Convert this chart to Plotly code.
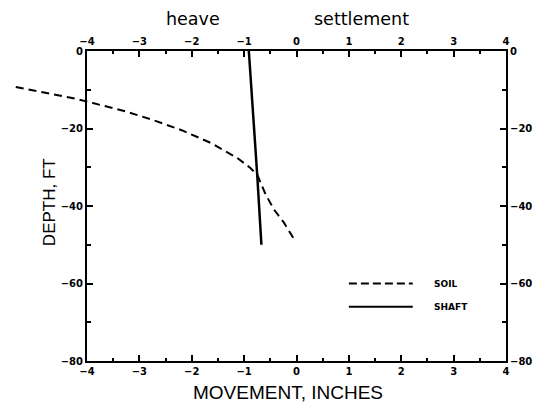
import plotly.graph_objects as go

# Soil and shaft movement profiles (movement in inches, depth in feet)
soil_move = [-5.36, -5.01, -4.63, -4.19, -3.87, -3.26, -2.72, -2.18, -1.64,
             -1.13, -0.88, -0.75, -0.59, -0.43, -0.24, -0.05]
soil_depth = [-9.3, -10.2, -11.1, -12.4, -13.5, -15.6, -17.9, -20.5, -23.7,
              -27.6, -30.2, -31.9, -37.0, -40.9, -44.3, -48.5]

shaft_move = [-0.91, -0.81, -0.75, -0.67]
shaft_depth = [0.0, -19.6, -32.0, -50.0]

x_ticks = [-4, -3, -2, -1, 0, 1, 2, 3, 4]
y_ticks = [0, -20, -40, -60, -80]
legend_names = ["SOIL", "SHAFT"]

W, H = 540, 408
ML, MR, MT, MB = 10, 34, 51, 47
plot_w = W - ML - MR
main_left = 87 - ML
x_dom0 = main_left / plot_w
ext_min = 4 - 8 * plot_w / (plot_w - main_left)

tick_font = dict(family="DejaVu Sans", size=10, color="black", weight="bold")

fig = go.Figure()

# soil curve runs past the left frame, so it sits on a wider companion x axis
fig.add_trace(go.Scatter(x=soil_move, y=soil_depth, mode="lines",
                         xaxis="x3", yaxis="y", name=legend_names[0],
                         line=dict(color="black", width=2, dash="8px,5px"),
                         showlegend=False, hoverinfo="skip"))
fig.add_trace(go.Scatter(x=shaft_move, y=shaft_depth, mode="lines",
                         xaxis="x", yaxis="y", name=legend_names[1],
                         line=dict(color="black", width=2.5),
                         showlegend=False, hoverinfo="skip"))
# empty trace so the mirrored top/right axes are rendered
fig.add_trace(go.Scatter(x=[], y=[], xaxis="x2", yaxis="y2",
                         showlegend=False, hoverinfo="skip"))

xcommon = dict(range=[-4, 4], tickvals=x_ticks, ticks="inside", ticklen=6,
               tickwidth=1.5, tickcolor="black", showline=True, linewidth=2,
               linecolor="black", showgrid=False, zeroline=False,
               tickfont=tick_font, automargin=False,
               minor=dict(dtick=0.5, ticks="inside", ticklen=3,
                          tickcolor="black", tickwidth=1.5, showgrid=False))
ycommon = dict(range=[-80, 0], tickvals=y_ticks, ticks="inside", ticklen=6,
               tickwidth=1.5, tickcolor="black", showline=True, linewidth=2,
               linecolor="black", showgrid=False, zeroline=False,
               tickfont=tick_font, automargin=False,
               minor=dict(dtick=10, ticks="inside", ticklen=4,
                          tickcolor="black", tickwidth=1.5, showgrid=False))

fig.update_layout(
    template="none",
    width=W, height=H,
    margin=dict(l=ML, r=MR, t=MT, b=MB, autoexpand=False),
    paper_bgcolor="white", plot_bgcolor="rgba(0,0,0,0)",
    showlegend=False,
    xaxis=dict(xcommon, domain=[x_dom0, 1], anchor="y"),
    xaxis2=dict(xcommon, domain=[x_dom0, 1], overlaying="x", side="top",
                anchor="y2"),
    xaxis3=dict(range=[ext_min, 4], domain=[0, 1], anchor="y",
                visible=False, automargin=False),
    yaxis=dict(ycommon, anchor="x", domain=[0, 1]),
    yaxis2=dict(ycommon, overlaying="y", side="right", anchor="x2"),
)

# axis titles
fig.add_annotation(text="MOVEMENT, INCHES", x=-0.17, xref="x", y=0,
                   yref="paper", yanchor="middle", yshift=-31,
                   showarrow=False,
                   font=dict(family="Liberation Sans", size=19, color="black"))
fig.add_annotation(text="DEPTH, FT", x=0, xref="paper", xanchor="center",
                   xshift=39, y=-39, yref="y", yanchor="middle",
                   textangle=-90, showarrow=False,
                   font=dict(family="Liberation Sans", size=17, color="black"))

# heave / settlement captions above the top axis
for txt, xv in [("heave", -1.98), ("settlement", 1.24)]:
    fig.add_annotation(text=txt, x=xv, xref="x", y=1.0, yref="paper",
                       yanchor="middle", yshift=32, showarrow=False,
                       font=dict(family="DejaVu Sans", size=17.5,
                                 color="black"))

# legend samples drawn inside the frame
legend_rows = [(legend_names[0], "8px,4px"), (legend_names[1], "solid")]
for i, (name, dash) in enumerate(legend_rows):
    yy = -60 - 6 * i
    fig.add_shape(type="line", xref="x", yref="y", x0=1.0, x1=2.22,
                  y0=yy, y1=yy, line=dict(color="black", width=2, dash=dash))
    fig.add_annotation(text=name, x=2.58, y=yy, xref="x", yref="y",
                       xanchor="left", showarrow=False,
                       font=dict(family="DejaVu Sans", size=9, color="black",
                                 weight="bold"))

fig.write_html("out.html")
